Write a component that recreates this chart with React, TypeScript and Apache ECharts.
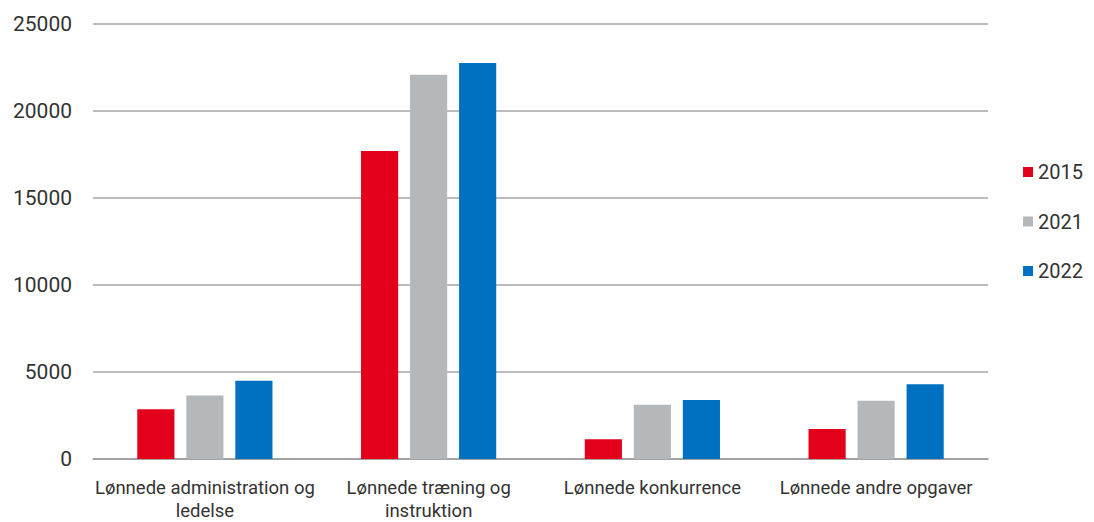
import React, { useEffect, useRef } from "react";
import * as echarts from "echarts";

const categories = [
  "Lønnede administration og\nledelse",
  "Lønnede træning og\ninstruktion",
  "Lønnede konkurrence",
  "Lønnede andre opgaver",
];
const seriesNames = ["2015", "2021", "2022"];
const values2015 = [2860, 17700, 1140, 1720];
const values2021 = [3650, 22080, 3120, 3350];
const values2022 = [4490, 22760, 3390, 4300];
const colors = ["#e2001a", "#b5b8bb", "#0070c0"];
const yTicks = [0, 5000, 10000, 15000, 20000, 25000];

export default function App() {
  const ref = useRef<HTMLDivElement>(null);
  useEffect(() => {
    document.body.style.margin = "0";
    document.body.style.overflow = "hidden";
    if (!ref.current) return;
    const chart = echarts.init(ref.current, null, { renderer: "svg" });
    const font = "Roboto, 'DejaVu Sans', sans-serif";
    const data = [values2015, values2021, values2022];
    chart.setOption({
      animation: false,
      textStyle: { fontFamily: font },
      grid: { left: 93, right: 106, top: 24, bottom: 58, containLabel: false },
      legend: {
        orient: "vertical",
        right: 6,
        top: 157,
        itemWidth: 10,
        itemHeight: 10,
        itemGap: 29.5,
        icon: "rect",
        textStyle: { fontSize: 20, color: "#333", fontFamily: font },
        data: seriesNames,
      },
      xAxis: {
        type: "category",
        data: categories,
        axisLine: { show: true, lineStyle: { color: "#999", width: 1.5 } },
        axisTick: { show: false },
        axisLabel: {
          interval: 0,
          fontSize: 18.5,
          color: "#333",
          margin: 17,
          lineHeight: 23,
          fontFamily: font,
        },
      },
      yAxis: {
        type: "value",
        min: yTicks[0],
        max: yTicks[yTicks.length - 1],
        interval: 5000,
        axisLine: { show: false },
        axisTick: { show: false },
        splitLine: { lineStyle: { color: "#a6a6a6", width: 1.5 } },
        axisLabel: {
          fontSize: 21,
          color: "#333",
          margin: 21,
          fontFamily: font,
          formatter: (v: number) => String(v),
        },
      },
      series: seriesNames.map((name, i) => ({
        name,
        type: "bar",
        data: data[i],
        barWidth: "16.6%",
        barGap: "32%",
        itemStyle: { color: colors[i] },
      })),
    });
    return () => chart.dispose();
  }, []);
  return <div ref={ref} style={{ width: 1094, height: 522 }} />;
}
